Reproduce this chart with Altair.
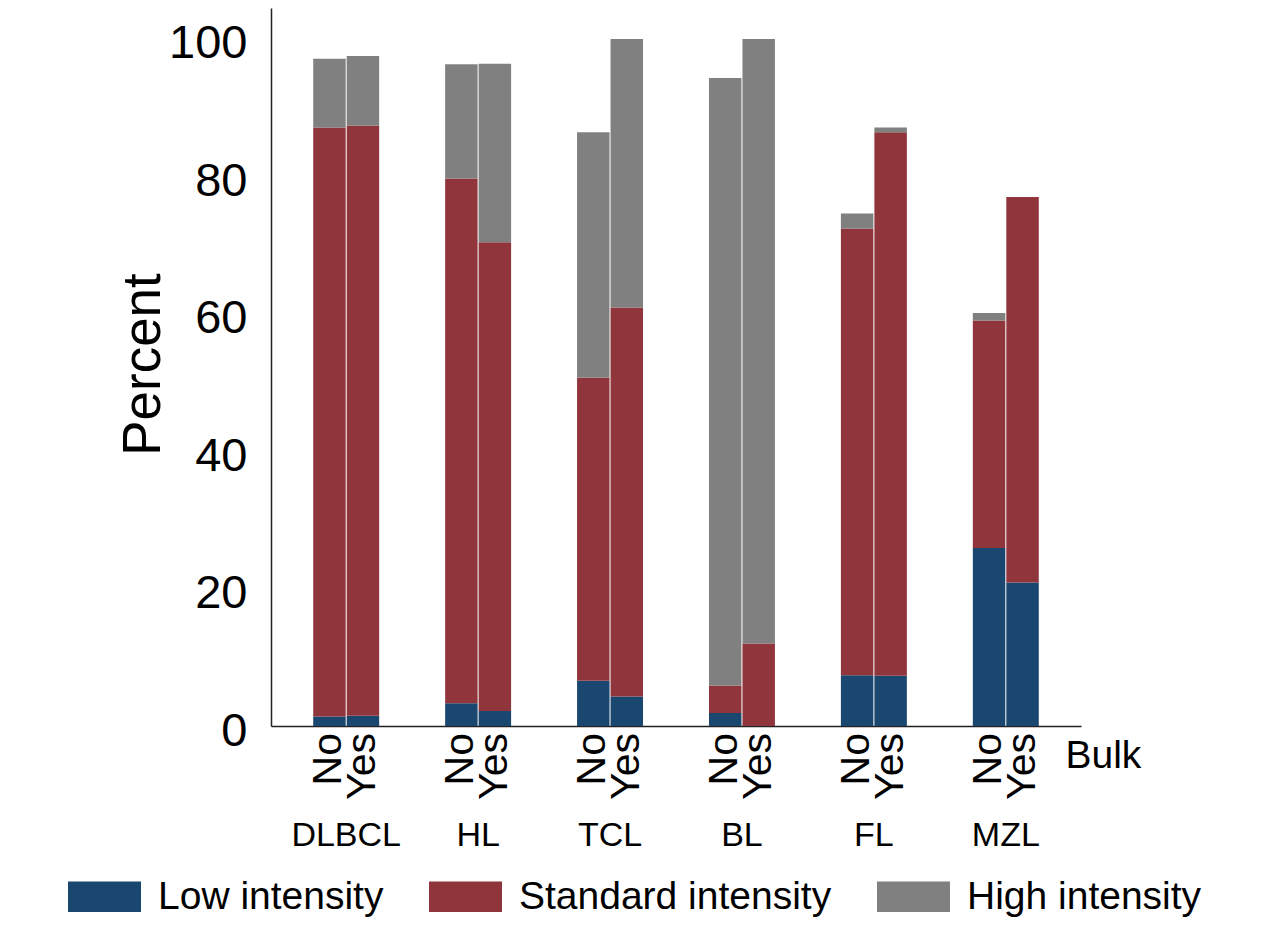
import altair as alt
import pandas as pd

groups = ["DLBCL", "HL", "TCL", "BL", "FL", "MZL"]
bulk = ["No", "Yes"]
# values per (group, bulk) in order DLBCL-No, DLBCL-Yes, HL-No, ...
low = [1.4, 1.5, 3.3, 2.2, 6.6, 4.3, 1.9, 0.0, 7.4, 7.3, 25.9, 20.9]
standard = [85.7, 85.9, 76.4, 68.2, 44.1, 56.6, 4.0, 12.0, 65.0, 79.1, 33.1, 56.1]
high = [10.0, 10.1, 16.6, 26.0, 35.7, 39.1, 88.4, 88.0, 2.2, 0.7, 1.1, 0.0]
intensity = ["Low intensity", "Standard intensity", "High intensity"]
colors = ["#1a476f", "#90353b", "#808080"]
y_ticks = [0, 20, 40, 60, 80, 100]

rows = []
for i, g in enumerate(groups):
    for j, b in enumerate(bulk):
        k = 2 * i + j
        for o, (name, vals) in enumerate(zip(intensity, [low, standard, high])):
            rows.append({"group": g, "bulk": b, "intensity": name, "ord": o, "pct": vals[k]})
df = pd.DataFrame(rows)
labels_df = pd.DataFrame([{"group": g, "bulk": b} for g in groups for b in bulk])

W, H = 810, 718
FONT = "Liberation Sans"

xscale = alt.Scale(domain=groups, paddingInner=0.5, paddingOuter=0.32)
offscale = alt.Scale(domain=bulk, paddingInner=0.03, paddingOuter=0)
xaxis = alt.Axis(title="Bulk", ticks=False, tickSize=0, labelAngle=0,
                 labelFontSize=34, labelPadding=109, labelBaseline="middle",
                 labelFont=FONT, labelColor="black",
                 domainColor="#222222", domainWidth=1.5,
                 titleFontSize=39, titleFont=FONT, titleFontWeight="normal",
                 titleColor="black", titleX=794, titleY=29,
                 titleAlign="left", titleBaseline="middle", titleAngle=0)

bars = alt.Chart(df).mark_bar().encode(
    x=alt.X("group:N", scale=xscale, sort=groups, title="Bulk", axis=xaxis),
    xOffset=alt.XOffset("bulk:N", scale=offscale, sort=bulk),
    y=alt.Y("pct:Q", stack="zero",
            scale=alt.Scale(domain=[0, 104.5], nice=False, zero=True),
            axis=alt.Axis(title="Percent", values=y_ticks, ticks=False, tickSize=0,
                          labelFontSize=47, labelPadding=24, labelFont=FONT,
                          labelColor="black", labelBaseline="middle", labelOffset=5,
                          domainColor="#222222", domainWidth=1.5, grid=False,
                          titleFontSize=53, titleFont=FONT, titleFontWeight="normal",
                          titleColor="black", titleX=-128, titleY=356,
                          titleAngle=270, titleAlign="center", titleBaseline="middle")),
    color=alt.Color("intensity:N", scale=alt.Scale(domain=intensity, range=colors),
                    legend=alt.Legend(title=None, orient="none", legendX=-203, legendY=852,
                                      direction="horizontal",
                                      symbolType="M-1,-0.42H1V0.42H-1Z", symbolSize=5329,
                                      symbolStrokeWidth=0, labelFontSize=39, labelFont=FONT,
                                      labelColor="black", labelOffset=17, columnPadding=45,
                                      padding=0, labelLimit=400)),
    order=alt.Order("ord:Q", sort="ascending"),
)

bulk_labels = alt.Chart(labels_df).mark_text(
    angle=270, align="right", baseline="middle", fontSize=41, font=FONT, color="black"
).encode(
    x=alt.X("group:N", scale=xscale, sort=groups, title="Bulk", axis=xaxis),
    xOffset=alt.XOffset("bulk:N", scale=offscale, sort=bulk),
    y=alt.value(725),
    text="bulk:N",
)

chart = alt.layer(bars, bulk_labels).properties(
    width=W, height=H,
    padding={"left": 263, "top": 0, "right": 170, "bottom": 210},
    autosize=alt.AutoSizeParams(type="none"),
).configure_view(stroke=None).configure_axis(grid=False)

chart.save("out.html", embed_options={"renderer": "svg", "actions": False})
